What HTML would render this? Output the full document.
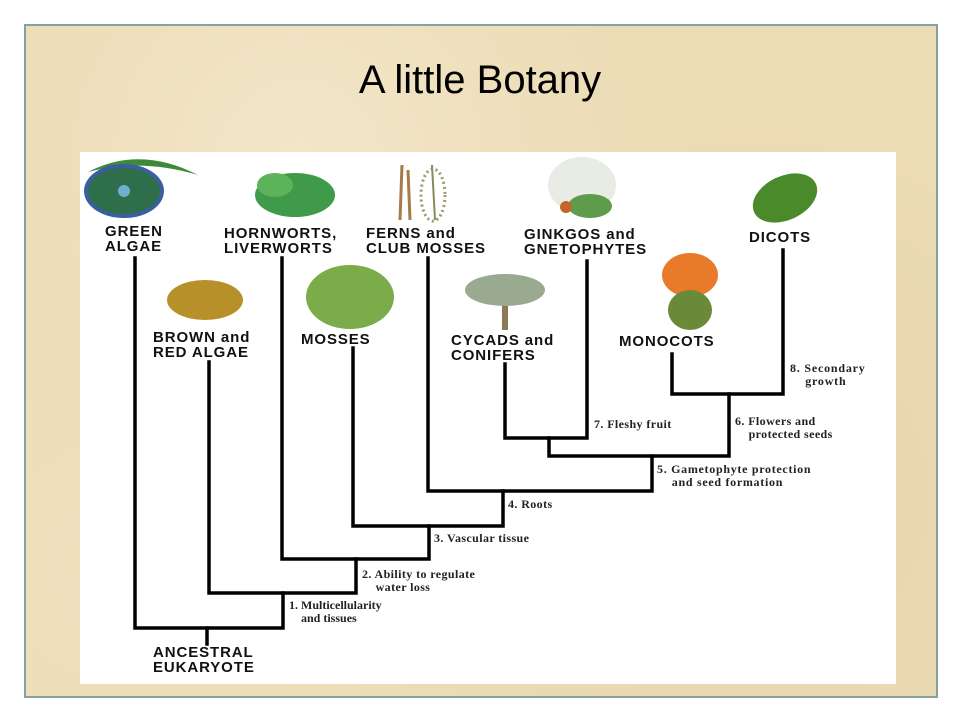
<!DOCTYPE html>
<html><head><meta charset="utf-8"><style>
body{margin:0;width:960px;height:720px;background:#fff;position:relative;overflow:hidden;font-family:"Liberation Sans",sans-serif}
.frame{position:absolute;left:24px;top:24px;width:910px;height:670px;border:2px solid #86a0a4;background:#ecdcb6;background-image:radial-gradient(circle at 30% 20%,#f2e6c8 0,transparent 40%),radial-gradient(circle at 80% 70%,#e6d4aa 0,transparent 45%),radial-gradient(circle at 10% 80%,#efe1bd 0,transparent 35%)}
.title{position:absolute;left:0;width:960px;top:58px;text-align:center;font-size:40px;color:#000}
.panel{position:absolute;left:80px;top:152px;width:816px;height:532px;background:#fff}
.l{position:absolute;font-weight:bold;font-size:15px;line-height:15px;color:#111;letter-spacing:0.9px;white-space:nowrap}
.s{position:absolute;font-family:"Liberation Serif",serif;font-weight:bold;font-size:12px;line-height:13px;color:#222;white-space:pre;letter-spacing:0.4px}
</style></head><body>
<div class="frame"></div>
<div class="title">A little Botany</div>
<div class="panel"></div>
<svg width="960" height="720" style="position:absolute;left:0;top:0">
<path d="M88 172 Q140 145 198 175 Q140 158 88 172Z" fill="#3d8a3a"/>
<ellipse cx="124" cy="191" rx="38" ry="25" fill="#2e6e4a" stroke="#3a5fa0" stroke-width="4"/>
<circle cx="124" cy="191" r="6" fill="#6fb0d0"/>
<ellipse cx="295" cy="195" rx="40" ry="22" fill="#3f9a4a"/>
<ellipse cx="275" cy="185" rx="18" ry="12" fill="#5db35a"/>
<path d="M400 220 L402 165 M410 220 L408 170" stroke="#a87a4a" stroke-width="3"/>
<path d="M435 220 L432 165" stroke="#8a8a5a" stroke-width="2"/>
<ellipse cx="433" cy="195" rx="12" ry="26" fill="none" stroke="#9a9a6a" stroke-width="3" stroke-dasharray="2 3"/>
<ellipse cx="582" cy="185" rx="34" ry="28" fill="#e8ece4"/>
<ellipse cx="590" cy="206" rx="22" ry="12" fill="#5e9b4a"/>
<circle cx="566" cy="207" r="6" fill="#c0662a"/>
<ellipse cx="785" cy="198" rx="34" ry="22" fill="#4a8a2a" transform="rotate(-25 785 198)"/>
<ellipse cx="350" cy="297" rx="44" ry="32" fill="#7cab4a"/>
<ellipse cx="205" cy="300" rx="38" ry="20" fill="#b8902a"/>
<path d="M505 330 L505 290" stroke="#8a7a5a" stroke-width="6"/>
<ellipse cx="505" cy="290" rx="40" ry="16" fill="#9aaa90"/>
<ellipse cx="690" cy="275" rx="28" ry="22" fill="#e97a2a"/>
<ellipse cx="690" cy="310" rx="22" ry="20" fill="#6a8a3a"/>
<g stroke="#000" stroke-width="3.5" fill="none" stroke-linecap="square">
<path d="M135 258 V628 H283 V593"/>
<path d="M207 628 V644"/>
<path d="M209 362 V593 H356 V559"/>
<path d="M282 258 V559 H429 V526"/>
<path d="M353 348 V526 H503 V491"/>
<path d="M428 258 V491 H652 V456"/>
<path d="M505 364 V438 H587 V261"/>
<path d="M549 438 V456 H729 V394"/>
<path d="M672 354 V394 H783 V250"/>
</g>
</svg>
<div class="l" style="left:105px;top:224px">GREEN<br>ALGAE</div>
<div class="l" style="left:224px;top:226px">HORNWORTS,<br>LIVERWORTS</div>
<div class="l" style="left:366px;top:226px">FERNS and<br>CLUB MOSSES</div>
<div class="l" style="left:524px;top:227px">GINKGOS and<br>GNETOPHYTES</div>
<div class="l" style="left:749px;top:230px">DICOTS</div>
<div class="l" style="left:153px;top:330px">BROWN and<br>RED ALGAE</div>
<div class="l" style="left:301px;top:332px">MOSSES</div>
<div class="l" style="left:451px;top:333px">CYCADS and<br>CONIFERS</div>
<div class="l" style="left:619px;top:334px">MONOCOTS</div>
<div class="l" style="left:153px;top:645px">ANCESTRAL<br>EUKARYOTE</div>
<div class="s" style="left:289px;top:599px;letter-spacing:0">1. Multicellularity
    and tissues</div>
<div class="s" style="left:362px;top:568px">2. Ability to regulate
    water loss</div>
<div class="s" style="left:434px;top:532px">3. Vascular tissue</div>
<div class="s" style="left:508px;top:498px">4. Roots</div>
<div class="s" style="left:657px;top:463px;letter-spacing:0.7px">5. Gametophyte protection
    and seed formation</div>
<div class="s" style="left:735px;top:415px">6. Flowers and
    protected seeds</div>
<div class="s" style="left:594px;top:418px">7. Fleshy fruit</div>
<div class="s" style="left:790px;top:362px;letter-spacing:0.8px">8. Secondary
    growth</div>
</body></html>
